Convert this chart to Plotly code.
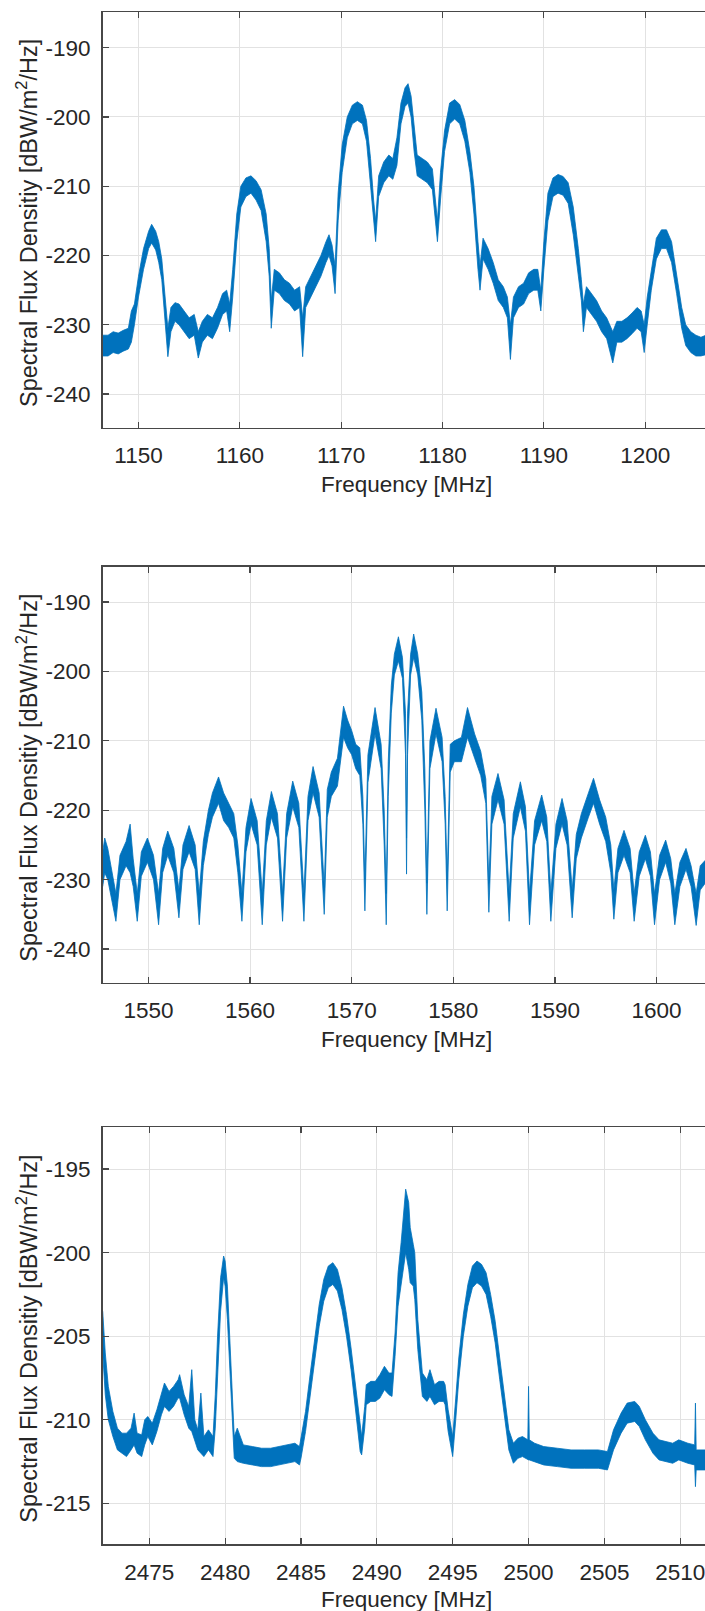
import plotly.graph_objects as go

# ---------------- Panel 1 : L5 / E5a band ----------------
f1 = [1146.45, 1147.0, 1147.5, 1148.0, 1148.5, 1149.0, 1149.3, 1149.6, 1150.0, 1150.5,
      1151.0, 1151.3, 1151.7, 1152.0, 1152.3, 1152.6, 1152.9, 1153.2, 1153.6, 1154.0,
      1154.5, 1155.0, 1155.5, 1155.9, 1156.3, 1156.8, 1157.3, 1157.8, 1158.3, 1158.7,
      1159.0, 1159.3, 1159.7, 1160.1, 1160.6, 1161.1, 1161.6, 1162.1, 1162.6, 1162.9,
      1163.1, 1163.4, 1163.9, 1164.4, 1164.9, 1165.4, 1165.9, 1166.2, 1166.5, 1167.0,
      1167.5, 1168.0, 1168.5, 1168.8, 1169.1, 1169.4, 1169.7, 1170.1, 1170.6, 1171.1,
      1171.6, 1172.1, 1172.5, 1172.9, 1173.2, 1173.4, 1173.7, 1174.2, 1174.7, 1175.1,
      1175.5, 1175.9, 1176.3, 1176.6, 1176.9, 1177.2, 1177.5, 1178.0, 1178.5, 1179.0,
      1179.3, 1179.5, 1179.8, 1180.2, 1180.7, 1181.2, 1181.7, 1182.2, 1182.7, 1183.1,
      1183.5, 1183.7, 1184.0, 1184.5, 1185.0, 1185.5, 1186.0, 1186.4, 1186.7, 1187.0,
      1187.5, 1188.0, 1188.5, 1189.0, 1189.4, 1189.7, 1190.0, 1190.4, 1190.9, 1191.4,
      1191.9, 1192.4, 1192.9, 1193.4, 1193.7, 1193.9, 1194.2, 1194.7, 1195.2, 1195.7,
      1196.2, 1196.8, 1197.2, 1197.7, 1198.2, 1198.7, 1199.2, 1199.6, 1199.9, 1200.2,
      1200.6, 1201.1, 1201.6, 1202.1, 1202.6, 1203.1, 1203.6, 1204.0, 1204.5, 1205.0,
      1205.5, 1206.0]
lo1 = [-234.5, -234.5, -234.0, -234.2, -233.8, -233.5, -232.5, -230.0, -226.0, -222.0,
       -219.0, -218.2, -219.2, -221.0, -223.5, -229.0, -234.6, -231.0, -229.5, -230.0,
       -231.0, -232.0, -231.5, -234.8, -232.5, -231.5, -232.0, -230.5, -228.5, -228.0,
       -231.0, -226.0, -218.0, -213.0, -211.5, -211.0, -212.0, -213.5, -218.0, -223.0,
       -230.5, -225.0, -225.5, -226.5, -227.0, -228.0, -227.5, -234.6, -227.5, -226.0,
       -224.5, -223.0, -221.0, -220.0, -221.5, -225.5, -215.0, -208.0, -203.0, -201.0,
       -200.5, -201.0, -203.5, -210.0, -215.0, -218.0, -211.5, -209.5, -208.5, -209.0,
       -207.0, -201.0, -198.5, -198.0, -200.0, -205.0, -208.5, -209.0, -209.5, -210.5,
       -215.5, -218.0, -212.0, -205.0, -201.0, -200.3, -201.0, -203.5, -208.0, -214.0,
       -222.0, -225.0, -220.5, -222.0, -224.0, -226.5, -227.5, -229.0, -235.0, -229.0,
       -227.5, -227.0, -225.5, -225.0, -225.0, -228.0, -222.0, -215.0, -211.5, -211.0,
       -211.3, -212.5, -217.0, -223.0, -226.5, -231.0, -227.5, -228.5, -229.5, -231.0,
       -232.0, -235.5, -232.5, -232.5, -232.0, -231.3, -230.5, -231.0, -234.0, -230.0,
       -225.0, -220.5, -219.0, -219.0, -221.0, -225.5, -230.5, -233.0, -234.0, -234.5,
       -234.5, -234.3]
hi1 = [-231.5, -231.5, -231.0, -231.2, -230.8, -230.5, -228.0, -227.0, -223.0, -219.0,
       -216.5, -215.5, -216.5, -218.0, -220.5, -225.0, -230.5, -227.5, -226.8, -227.0,
       -228.0, -229.0, -228.5, -231.0, -229.5, -228.5, -229.0, -227.5, -225.5, -225.0,
       -227.0, -222.0, -214.0, -210.0, -208.8, -208.5, -209.2, -210.5, -214.0, -219.0,
       -226.5, -222.0, -222.5, -223.5, -224.0, -225.0, -224.5, -229.0, -224.5, -223.0,
       -221.5, -220.0, -218.0, -217.0, -218.5, -221.5, -211.0, -204.0, -200.0, -198.3,
       -197.8, -198.3, -200.5, -206.0, -212.0, -215.0, -208.5, -206.5, -205.5, -206.0,
       -203.0, -198.0, -195.8, -195.2, -197.0, -201.0, -205.5, -206.0, -206.5, -207.5,
       -212.5, -215.0, -208.0, -202.0, -198.0, -197.5, -198.2, -200.5, -205.0, -210.0,
       -218.0, -221.5, -217.5, -219.0, -221.0, -223.5, -224.5, -226.0, -230.0, -226.0,
       -224.5, -224.0, -222.5, -222.0, -222.0, -225.0, -218.0, -211.0, -208.8, -208.3,
       -208.6, -209.5, -213.0, -219.0, -223.5, -227.0, -224.5, -225.5, -226.5, -228.0,
       -229.0, -231.0, -229.5, -229.5, -229.0, -228.3, -227.5, -228.0, -230.0, -226.0,
       -222.0, -217.5, -216.3, -216.3, -218.0, -222.5, -227.5, -230.0, -231.0, -231.5,
       -231.8, -231.5]

# ---------------- Panel 2 : L1 / E1 band ----------------
f2 = [1545.5, 1545.7, 1546.0, 1546.4, 1546.8, 1547.2, 1547.8, 1548.2, 1548.5, 1548.9,
      1549.3, 1549.9, 1550.5, 1551.0, 1551.4, 1551.9, 1552.5, 1553.0, 1553.4, 1554.0,
      1554.6, 1555.0, 1555.4, 1555.9, 1556.3, 1556.9, 1557.4, 1557.9, 1558.4, 1558.8,
      1559.2, 1559.6, 1560.1, 1560.7, 1561.2, 1561.6, 1562.1, 1562.7, 1563.2, 1563.6,
      1564.2, 1564.8, 1565.3, 1565.7, 1566.2, 1566.8, 1567.3, 1567.6, 1568.0, 1568.6,
      1569.2, 1569.6, 1570.0, 1570.4, 1570.8, 1571.1, 1571.3, 1571.6, 1572.3, 1572.9,
      1573.2, 1573.4, 1573.6, 1573.9, 1574.2, 1574.6, 1575.0, 1575.3, 1575.4, 1575.5,
      1575.8, 1576.1, 1576.5, 1576.9, 1577.2, 1577.4, 1577.7, 1578.3, 1578.9, 1579.2,
      1579.4, 1579.7, 1580.1, 1580.8, 1581.4, 1582.1, 1582.7, 1583.2, 1583.5, 1583.8,
      1584.4, 1585.0, 1585.5, 1585.9, 1586.6, 1587.1, 1587.5, 1588.0, 1588.7, 1589.2,
      1589.6, 1590.1, 1590.7, 1591.2, 1591.7, 1592.1, 1592.6, 1593.3, 1593.8, 1594.4,
      1595.0, 1595.5, 1595.8, 1596.2, 1596.8, 1597.4, 1597.8, 1598.3, 1598.9, 1599.4,
      1599.8, 1600.3, 1600.9, 1601.4, 1601.8, 1602.3, 1602.9, 1603.4, 1603.9, 1604.3,
      1604.8]
lo2 = [-231.0, -229.0, -230.0, -233.0, -236.0, -230.0, -228.0, -229.0, -231.0, -236.0,
       -229.5, -227.5, -230.0, -236.5, -229.0, -226.5, -229.0, -235.5, -228.5, -226.0,
       -228.5, -236.5, -228.0, -223.5, -221.0, -219.0, -221.5, -222.5, -224.0, -229.0,
       -236.0, -226.0, -222.0, -225.0, -236.5, -225.0, -221.0, -224.0, -236.0, -224.0,
       -219.5, -222.5, -236.0, -221.5, -217.5, -221.0, -235.0, -221.0, -218.0, -216.5,
       -209.5, -211.0, -212.0, -214.0, -215.0, -222.0, -234.5, -216.0, -209.0, -214.0,
       -225.0, -236.5, -218.0, -206.0, -200.5, -198.5, -201.0, -212.0, -229.2, -212.0,
       -200.5, -198.0, -200.5, -207.0, -220.0, -235.0, -214.0, -209.0, -213.0, -222.0,
       -234.5, -214.5, -213.0, -213.0, -209.5, -212.5, -215.0, -219.0, -234.7, -222.0,
       -218.5, -222.0, -236.0, -224.0, -219.5, -223.0, -236.5, -225.0, -221.5, -224.5,
       -236.0, -225.5, -222.0, -225.0, -235.5, -227.0, -224.0, -221.0, -219.0, -222.0,
       -224.5, -229.0, -235.7, -229.0, -226.5, -229.0, -236.0, -229.5, -227.0, -229.5,
       -236.5, -230.0, -227.5, -230.5, -236.5, -231.0, -228.5, -231.0, -236.6, -231.5,
       -230.5]
hi2 = [-226.0, -224.0, -225.5, -229.0, -232.0, -226.5, -224.5, -222.0, -227.0, -232.0,
       -226.0, -224.0, -226.5, -232.0, -225.5, -223.0, -225.5, -231.5, -225.0, -222.2,
       -225.0, -232.0, -224.5, -220.0, -217.5, -215.2, -217.5, -219.0, -220.5, -225.0,
       -232.0, -222.5, -218.3, -221.5, -232.0, -221.5, -217.3, -220.5, -232.0, -220.5,
       -215.8, -219.0, -232.0, -218.0, -213.7, -217.5, -231.0, -217.0, -214.5, -212.5,
       -205.0, -207.0, -208.5, -210.5, -211.0, -218.0, -230.0, -212.0, -205.2, -210.5,
       -220.0, -232.0, -213.0, -202.0, -197.5, -195.0, -198.0, -206.0, -224.0, -206.0,
       -197.5, -194.6, -197.5, -203.0, -214.0, -230.5, -210.0, -205.3, -209.5, -218.0,
       -230.0, -210.5, -210.0, -209.5, -205.2, -209.0, -211.5, -215.5, -230.5, -218.0,
       -214.7, -218.5, -232.0, -220.5, -215.9, -219.5, -232.0, -221.5, -217.8, -221.0,
       -232.0, -222.0, -218.3, -221.5, -231.5, -223.5, -220.5, -217.5, -215.4, -218.5,
       -221.0, -225.0, -231.5, -225.5, -222.9, -225.5, -232.0, -226.0, -223.6, -226.0,
       -232.0, -226.5, -224.3, -227.0, -232.0, -227.5, -225.5, -228.0, -232.0, -228.0,
       -227.2]

# ---------------- Panel 3 : S band ----------------
f3 = [2471.93, 2472.1, 2472.3, 2472.6, 2472.9, 2473.2, 2473.5, 2473.8, 2474.0, 2474.2,
      2474.5, 2474.7, 2474.9, 2475.2, 2475.5, 2475.8, 2476.0, 2476.3, 2476.6, 2476.9,
      2477.0, 2477.3, 2477.6, 2477.8, 2478.0, 2478.2, 2478.4, 2478.6, 2478.9, 2479.2,
      2479.35, 2479.5, 2479.7, 2479.9, 2480.0, 2480.15, 2480.3, 2480.45, 2480.6, 2480.8,
      2481.2, 2481.8, 2482.4, 2483.0, 2483.6, 2484.1, 2484.6, 2484.9, 2485.0, 2485.3,
      2485.6, 2485.9, 2486.2, 2486.5, 2486.8, 2487.1, 2487.4, 2487.7, 2488.0, 2488.3,
      2488.6, 2488.9, 2489.0, 2489.2, 2489.3, 2489.6, 2489.9, 2490.2, 2490.5, 2490.8,
      2491.0, 2491.2, 2491.4, 2491.6, 2491.8, 2491.9, 2492.1, 2492.2, 2492.4, 2492.5,
      2492.7, 2493.0, 2493.3, 2493.5, 2493.8, 2494.1, 2494.4, 2494.5, 2494.7, 2495.0,
      2495.2, 2495.4, 2495.7, 2496.0, 2496.3, 2496.6, 2496.9, 2497.2, 2497.5, 2497.8,
      2498.1, 2498.4, 2498.7, 2499.0, 2499.3, 2499.6, 2499.95, 2500.0, 2500.05, 2500.4,
      2501.0, 2501.9, 2502.8, 2503.7, 2504.6, 2505.2, 2505.6, 2506.1, 2506.5, 2507.0,
      2507.3, 2507.7, 2508.2, 2508.6, 2509.0, 2509.5, 2509.9, 2510.5, 2510.95, 2511.0,
      2511.05, 2511.3, 2511.63]
lo3 = [-206.0, -208.5, -210.0, -211.0, -211.8, -212.0, -212.2, -211.8, -211.5, -212.0,
       -212.2, -211.5, -211.0, -211.5, -210.7, -209.7, -209.2, -209.5, -209.2, -208.7,
       -208.7, -209.7, -210.5, -210.7, -211.2, -211.8, -212.0, -212.2, -211.8, -212.2,
       -210.5, -207.0, -203.5, -201.5, -202.0, -204.0, -207.0, -210.0, -212.3, -212.5,
       -212.6, -212.7, -212.8, -212.8, -212.7, -212.6, -212.5, -212.7, -212.3, -210.7,
       -208.6, -206.4, -204.4, -202.9, -202.1, -201.9, -202.3, -203.4, -205.0, -207.0,
       -209.4, -211.9, -212.1, -210.5, -209.1, -208.9, -208.9, -208.7, -208.2, -208.5,
       -208.6, -206.2, -203.2, -201.8, -200.5, -200.0, -201.0, -201.8, -202.0, -202.8,
       -205.8, -208.6, -208.9, -208.6, -209.1, -208.9, -208.9, -209.1, -210.7, -212.2,
       -210.0, -207.6, -205.0, -203.2, -202.1, -201.8, -202.0, -202.5, -203.8, -205.4,
       -207.6, -209.8, -211.8, -212.6, -212.3, -212.2, -212.4, -212.4, -212.4, -212.5,
       -212.7, -212.8, -212.9, -212.9, -212.9, -213.0, -211.8, -210.8, -210.2, -210.1,
       -210.4, -211.2, -212.0, -212.4, -212.5, -212.6, -212.4, -212.6, -212.7, -214.0,
       -213.0, -213.0, -213.0]
hi3 = [-203.5, -206.0, -208.0, -209.5, -210.5, -210.8, -210.8, -210.5, -209.6, -210.8,
       -210.9, -210.0, -209.8, -210.2, -209.4, -208.5, -207.8, -208.3, -208.0, -207.6,
       -207.3, -208.5, -209.2, -207.0, -210.0, -210.6, -208.4, -211.0, -210.6, -211.0,
       -208.5, -205.0, -201.5, -200.2, -200.5, -202.0, -205.0, -208.5, -211.0, -210.5,
       -211.5, -211.6, -211.7, -211.7, -211.6, -211.5, -211.4, -211.6, -211.0, -209.5,
       -207.3, -205.1, -203.1, -201.6, -200.8, -200.6, -201.0, -202.1, -203.7, -205.7,
       -208.1, -210.6, -211.0, -209.2, -207.9, -207.7, -207.7, -207.3, -206.8, -207.2,
       -207.2, -204.8, -201.2, -199.4, -197.5, -196.2, -197.0, -198.5, -199.5, -200.0,
       -204.0, -207.2, -207.6, -207.0, -207.9, -207.7, -207.7, -207.9, -209.4, -211.0,
       -208.7, -206.3, -203.7, -201.9, -200.8, -200.5, -200.7, -201.2, -202.5, -204.1,
       -206.3, -208.5, -210.6, -211.4, -211.1, -211.0, -211.2, -208.0, -211.2, -211.4,
       -211.6, -211.7, -211.8, -211.8, -211.8, -211.9, -210.6, -209.6, -209.0, -208.9,
       -209.2, -210.0, -210.8, -211.2, -211.3, -211.4, -211.2, -211.4, -211.5, -209.0,
       -211.8, -211.8, -211.8]

# ---------------- Axis settings (ranges / ticks) ----------------
x1_range = [1146.47, 1205.90]
x2_range = [1545.50, 1604.77]
x3_range = [2471.93, 2511.63]
y12_range = [-244.85, -184.9]
y3_range = [-217.43, -192.5]
x1_ticks = [1150, 1160, 1170, 1180, 1190, 1200]
x2_ticks = [1550, 1560, 1570, 1580, 1590, 1600]
x3_ticks = [2475, 2480, 2485, 2490, 2495, 2500, 2505, 2510]
y12_ticks = [-240, -230, -220, -210, -200, -190]
y3_ticks = [-215, -210, -205, -200, -195]

xlabel = "Frequency [MHz]"
ylabel = "Spectral Flux Densitiy [dBW/m<sup>2</sup>/Hz]"

W, H = 705, 1611
BLUE = "#0072BD"
FONT = "Liberation Sans, Arial, Helvetica, sans-serif"
TXT = "#262626"
FS = 22.5
FS_Y = 23.5

# pixel geometry of the three plot areas (top, bottom)
left_px = 102.7
panels_px = [(12.3, 427.7), (566.7, 982.7), (1127.3, 1544.0)]
xtitle_gap = [57, 57, 55]

fig = go.Figure()

data = [(f1, lo1, hi1), (f2, lo2, hi2), (f3, lo3, hi3)]
for i, (f, lo, hi) in enumerate(data):
    sfx = "" if i == 0 else str(i + 1)
    fig.add_trace(go.Scatter(x=f, y=lo, mode="lines", line=dict(color=BLUE, width=0.8),
                             xaxis="x" + sfx, yaxis="y" + sfx, showlegend=False,
                             hoverinfo="skip"))
    fig.add_trace(go.Scatter(x=f, y=hi, mode="lines", line=dict(color=BLUE, width=0.8),
                             fill="tonexty", fillcolor=BLUE,
                             xaxis="x" + sfx, yaxis="y" + sfx, showlegend=False,
                             hoverinfo="skip"))

xr = [x1_range, x2_range, x3_range]
yr = [y12_range, y12_range, y3_range]
xt = [x1_ticks, x2_ticks, x3_ticks]
yt = [y12_ticks, y12_ticks, y3_ticks]

axis_common = dict(showline=True, linecolor="#474747", linewidth=1.6,
                   ticks="inside", ticklen=6, tickwidth=1.2, tickcolor="#474747",
                   showgrid=True, gridcolor="#e2e2e2", gridwidth=1,
                   zeroline=False, ticklabeloverflow="allow",
                   tickfont=dict(family=FONT, size=FS, color=TXT))

layout = dict(width=W, height=H, margin=dict(l=0, r=0, t=0, b=0),
              paper_bgcolor="white", plot_bgcolor="white", showlegend=False)

annotations = []
for i in range(3):
    top, bot = panels_px[i]
    sfx = "" if i == 0 else str(i + 1)
    dom_y = [1 - bot / H, 1 - top / H]
    layout["xaxis" + sfx] = dict(axis_common, domain=[left_px / W, 1.0], range=xr[i],
                                 tickvals=xt[i], ticktext=[str(v) for v in xt[i]],
                                 anchor="y" + sfx, mirror="ticks",
                                 ticklabelstandoff=7)
    layout["yaxis" + sfx] = dict(axis_common, domain=dom_y, range=yr[i],
                                 tickvals=yt[i], ticktext=[str(v) for v in yt[i]],
                                 anchor="x" + sfx, mirror=False,
                                 ticklabelstandoff=6)
    annotations.append(dict(text=xlabel, x=406 / W, y=1 - (bot + xtitle_gap[i]) / H,
                            xref="paper", yref="paper", xanchor="center", yanchor="middle",
                            showarrow=False, font=dict(family=FONT, size=FS, color=TXT)))
    annotations.append(dict(text=ylabel, x=27 / W, y=1 - ((top + bot) / 2 + 3) / H,
                            xref="paper", yref="paper", xanchor="center", yanchor="middle",
                            textangle=-90, showarrow=False,
                            font=dict(family=FONT, size=FS_Y, color=TXT)))
layout["annotations"] = annotations
fig.update_layout(**layout)

fig.write_html("out.html", config={"displayModeBar": False, "staticPlot": True},
               post_script="document.body.style.margin='0';document.body.style.overflow='hidden';")
